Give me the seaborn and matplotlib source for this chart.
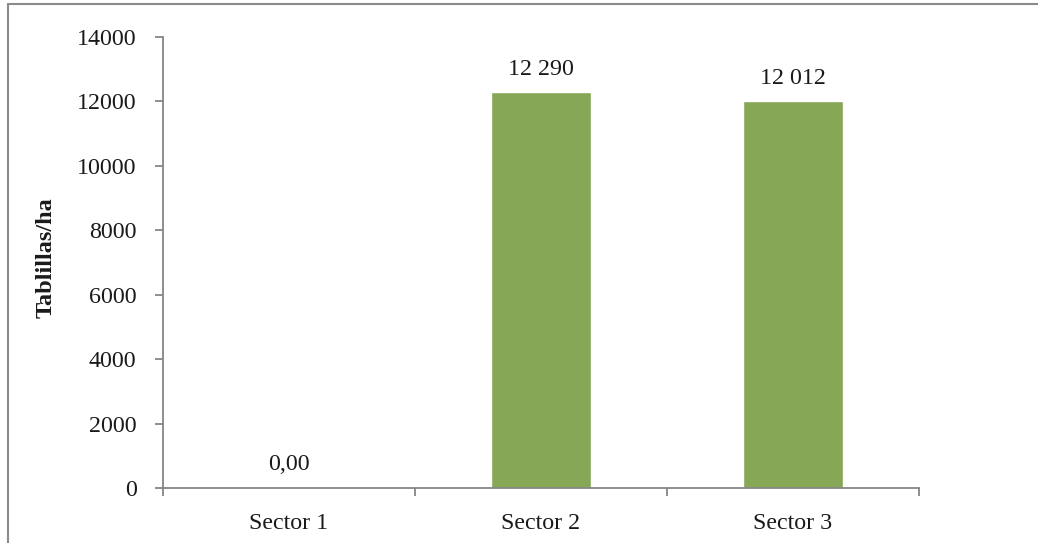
import matplotlib
matplotlib.use("Agg")
import matplotlib.pyplot as plt
from matplotlib.lines import Line2D
import seaborn as sns
import pandas as pd

# Data
sectors = ["Sector 1", "Sector 2", "Sector 3"]
tablillas = [0.0, 12290, 12012]
y_ticks = [0, 2000, 4000, 6000, 8000, 10000, 12000, 14000]

sns.set_theme(style="white")
plt.rcParams["font.family"] = ["Liberation Serif", "DejaVu Serif"]

BAR_COLOR = "#86a755"
AXIS_COLOR = "#868686"
TEXT_COLOR = "#1a1a1a"

df = pd.DataFrame({"sector": sectors, "valor": tablillas})

fig = plt.figure(figsize=(10.38, 5.43), dpi=100)
ax = fig.add_axes([163 / 1038, 1 - 488 / 543, (919 - 163) / 1038, (488 - 37) / 543])

sns.barplot(data=df, x="sector", y="valor", color=BAR_COLOR, width=0.4,
            saturation=1, ax=ax)


def fmt(v):
    if v == 0:
        return "0,00"
    return f"{v:,.0f}".replace(",", " ")


ax.bar_label(ax.containers[0], labels=[fmt(v) for v in tablillas],
             padding=9, fontsize=17.3, color=TEXT_COLOR)

ax.set_xlim(-0.5, 2.5)
ax.set_ylim(0, 14000)
ax.set_yticks(y_ticks)
ax.set_yticklabels([str(t) for t in y_ticks])
ax.set_xticks([-0.5, 0.5, 1.5, 2.5], minor=True)

ax.tick_params(axis="y", which="major", direction="out", length=6, width=1.3,
               color=AXIS_COLOR, labelsize=17.3, labelcolor=TEXT_COLOR, pad=13, left=True)
ax.tick_params(axis="x", which="major", length=0, labelsize=17.3,
               labelcolor=TEXT_COLOR, pad=18)
ax.tick_params(axis="x", which="minor", direction="out", length=6, width=1.3,
               color=AXIS_COLOR, bottom=True)

ax.set_xlabel("")
ax.set_ylabel("Tablillas/ha", fontsize=17.5, fontweight="bold", color=TEXT_COLOR)
ax.yaxis.set_label_coords(-0.1405, 0.51)

for side in ("top", "right"):
    ax.spines[side].set_visible(False)
for side in ("left", "bottom"):
    ax.spines[side].set_color(AXIS_COLOR)
    ax.spines[side].set_linewidth(1.3)

# Chart-area frame (left and top edges)
x0 = 8 / 1038
y1 = 1 - 4 / 543
fig.add_artist(Line2D([x0, x0], [0, y1], transform=fig.transFigure,
                      color="#8a8a8a", linewidth=1.5))
fig.add_artist(Line2D([x0, 1], [y1, y1], transform=fig.transFigure,
                      color="#8a8a8a", linewidth=1.5))

fig.savefig("out.png", dpi=100, facecolor="white")
